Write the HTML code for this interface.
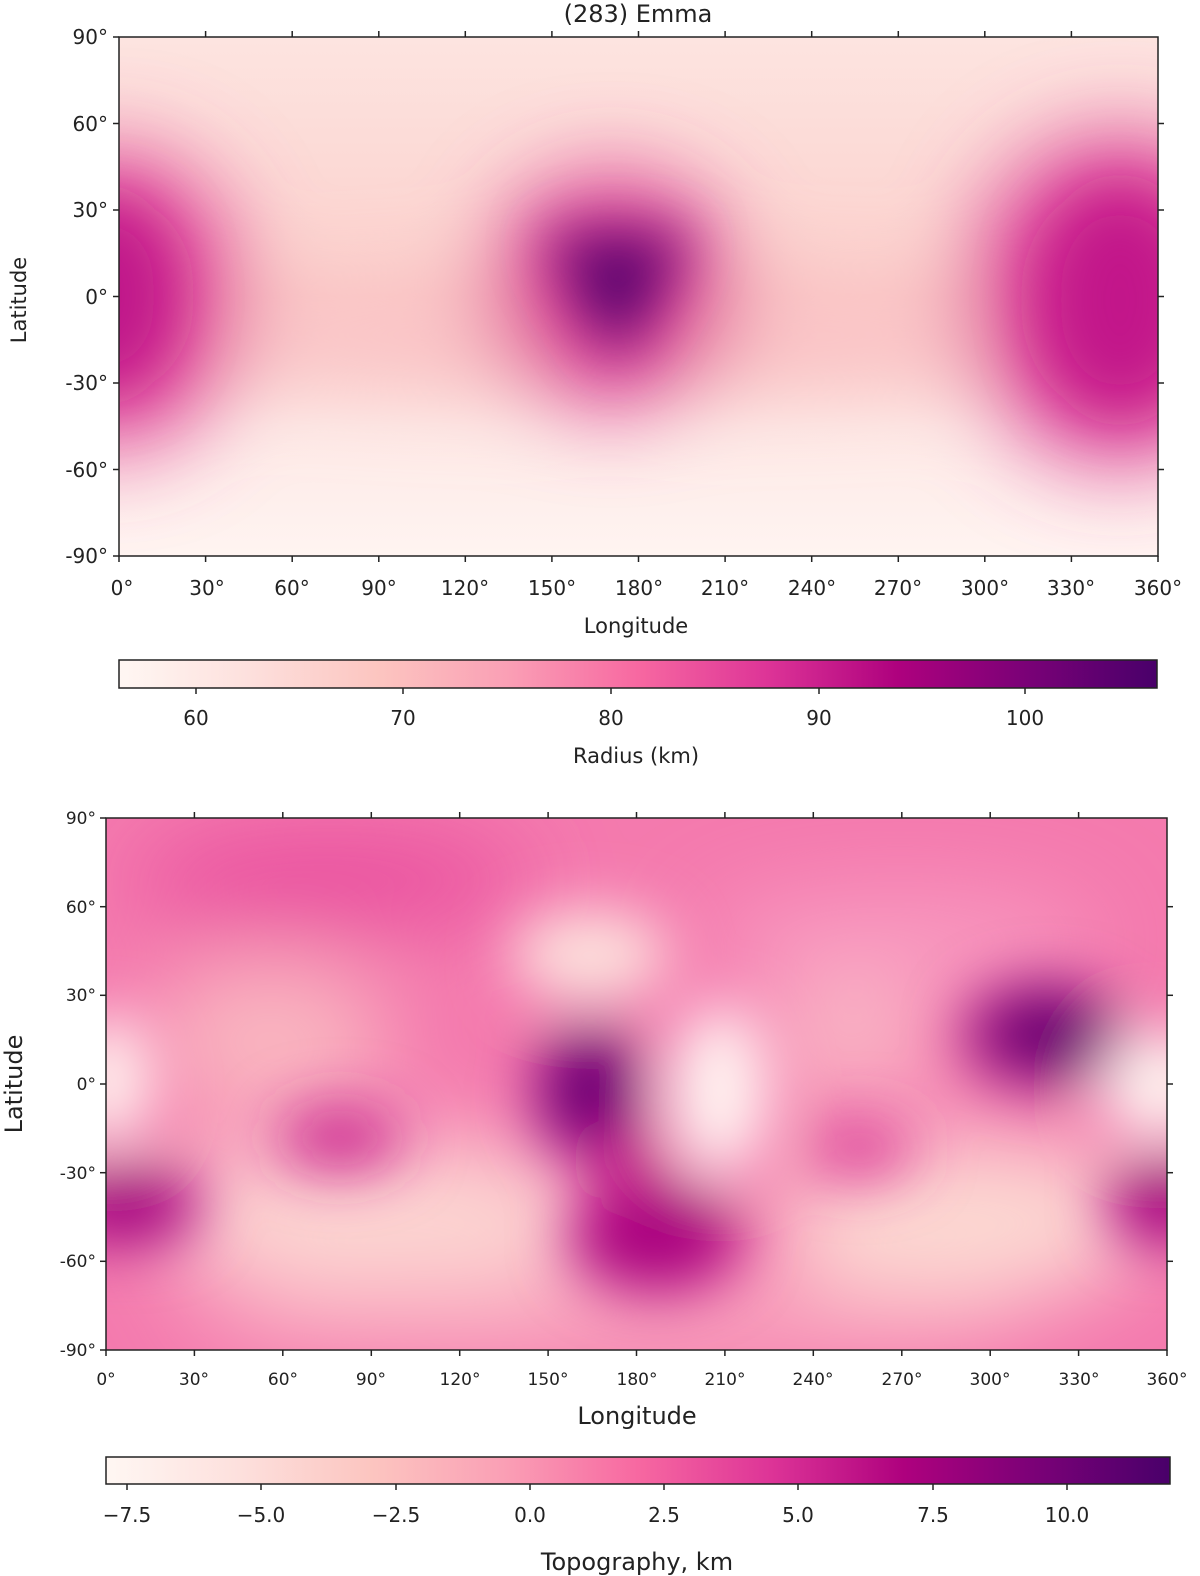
<!DOCTYPE html>
<html><head><meta charset="utf-8"><style>
html,body{margin:0;padding:0;background:#fff;overflow:hidden;}
svg{display:block;font-family:"DejaVu Sans","Liberation Sans",sans-serif;}
</style></head><body>
<svg width="1200" height="1576" viewBox="0 0 1200 1576" xmlns="http://www.w3.org/2000/svg">
<defs>
<filter id="b1" x="-50%" y="-50%" width="200%" height="200%"><feGaussianBlur stdDeviation="45"/></filter>
<filter id="b2" x="-50%" y="-50%" width="200%" height="200%"><feGaussianBlur stdDeviation="30"/></filter>
<clipPath id="c1"><rect x="119" y="37" width="1039" height="519"/></clipPath>
<clipPath id="c2"><rect x="106" y="818" width="1061" height="532"/></clipPath>
<linearGradient id="bg1" x1="0" y1="0" x2="0" y2="1">
<stop offset="0" stop-color="#fde4e0"/><stop offset="0.5" stop-color="#fbcfcb"/><stop offset="0.75" stop-color="#fde9e6"/><stop offset="1" stop-color="#fff4f1"/></linearGradient>
<linearGradient id="cm" x1="0" y1="0" x2="1" y2="0">
<stop offset="0" stop-color="#fff7f3"/><stop offset="0.125" stop-color="#fde0dd"/><stop offset="0.25" stop-color="#fcc5c0"/><stop offset="0.375" stop-color="#fa9fb5"/><stop offset="0.5" stop-color="#f768a1"/><stop offset="0.625" stop-color="#dd3497"/><stop offset="0.75" stop-color="#ae017e"/><stop offset="0.875" stop-color="#7a0177"/><stop offset="1" stop-color="#49006a"/></linearGradient>
</defs>
<text x="638" y="22" font-size="24" text-anchor="middle" fill="#222">(283) Emma</text>
<g clip-path="url(#c1)">
<rect x="119" y="37" width="1039" height="519" fill="url(#bg1)"/>
<g filter="url(#b1)">
<ellipse cx="640" cy="335" rx="520" ry="50" fill="#f9bfc2"/>
<ellipse cx="110" cy="300" rx="130" ry="150" fill="#e04a9a"/>
<ellipse cx="1120" cy="300" rx="150" ry="165" fill="#dc4298"/>
<ellipse cx="612" cy="290" rx="120" ry="115" fill="#dd3c95"/>
</g>
<g filter="url(#b2)">
<ellipse cx="105" cy="295" rx="70" ry="95" fill="#c0148a"/>
<ellipse cx="1120" cy="300" rx="80" ry="110" fill="#c2168a"/>
<path d="M545,235 L690,235 L620,360 Z" fill="#5e006f"/>
<ellipse cx="610" cy="295" rx="30" ry="30" fill="#49006a"/>
</g>
</g>
<rect x="119" y="37" width="1039" height="519" fill="none" stroke="#222" stroke-width="1.5"/>
<g stroke="#222" stroke-width="1.5">
<line x1="113" y1="37" x2="119" y2="37"/><line x1="113" y1="123.5" x2="119" y2="123.5"/><line x1="113" y1="210" x2="119" y2="210"/><line x1="113" y1="296.5" x2="119" y2="296.5"/><line x1="113" y1="383" x2="119" y2="383"/><line x1="113" y1="469.5" x2="119" y2="469.5"/><line x1="113" y1="556" x2="119" y2="556"/>
<line x1="1158" y1="123.5" x2="1164" y2="123.5"/><line x1="1158" y1="210" x2="1164" y2="210"/><line x1="1158" y1="296.5" x2="1164" y2="296.5"/><line x1="1158" y1="383" x2="1164" y2="383"/><line x1="1158" y1="469.5" x2="1164" y2="469.5"/>
</g>
<g font-size="20" fill="#222" text-anchor="end">
<text x="108" y="44">90°</text><text x="108" y="131">60°</text><text x="108" y="217">30°</text><text x="108" y="304">0°</text><text x="108" y="390">-30°</text><text x="108" y="477">-60°</text><text x="108" y="563">-90°</text>
</g>
<text transform="translate(26,300) rotate(-90)" font-size="21" text-anchor="middle" fill="#222">Latitude</text>
<g stroke="#222" stroke-width="1.5">
<line x1="119" y1="556" x2="119" y2="562"/><line x1="205.6" y1="556" x2="205.6" y2="562"/><line x1="292.2" y1="556" x2="292.2" y2="562"/><line x1="378.8" y1="556" x2="378.8" y2="562"/><line x1="465.3" y1="556" x2="465.3" y2="562"/><line x1="551.9" y1="556" x2="551.9" y2="562"/><line x1="638.5" y1="556" x2="638.5" y2="562"/><line x1="725.1" y1="556" x2="725.1" y2="562"/><line x1="811.7" y1="556" x2="811.7" y2="562"/><line x1="898.3" y1="556" x2="898.3" y2="562"/><line x1="984.8" y1="556" x2="984.8" y2="562"/><line x1="1071.4" y1="556" x2="1071.4" y2="562"/><line x1="1158" y1="556" x2="1158" y2="562"/>
<line x1="205.6" y1="31" x2="205.6" y2="37"/><line x1="292.2" y1="31" x2="292.2" y2="37"/><line x1="378.8" y1="31" x2="378.8" y2="37"/><line x1="465.3" y1="31" x2="465.3" y2="37"/><line x1="551.9" y1="31" x2="551.9" y2="37"/><line x1="638.5" y1="31" x2="638.5" y2="37"/><line x1="725.1" y1="31" x2="725.1" y2="37"/><line x1="811.7" y1="31" x2="811.7" y2="37"/><line x1="898.3" y1="31" x2="898.3" y2="37"/><line x1="984.8" y1="31" x2="984.8" y2="37"/><line x1="1071.4" y1="31" x2="1071.4" y2="37"/>
</g>
<g font-size="20" fill="#222" text-anchor="middle">
<text x="122" y="595">0°</text><text x="207" y="595">30°</text><text x="292" y="595">60°</text><text x="379" y="595">90°</text><text x="465" y="595">120°</text><text x="552" y="595">150°</text><text x="639" y="595">180°</text><text x="725" y="595">210°</text><text x="812" y="595">240°</text><text x="898" y="595">270°</text><text x="985" y="595">300°</text><text x="1071" y="595">330°</text><text x="1158" y="595">360°</text>
</g>
<text x="636" y="633" font-size="21" text-anchor="middle" fill="#222">Longitude</text>
<rect x="119" y="660" width="1038" height="28" fill="url(#cm)" stroke="#222" stroke-width="1.5"/>
<g stroke="#222" stroke-width="1.5"><line x1="196" y1="688" x2="196" y2="694"/><line x1="403" y1="688" x2="403" y2="694"/><line x1="611" y1="688" x2="611" y2="694"/><line x1="819" y1="688" x2="819" y2="694"/><line x1="1025" y1="688" x2="1025" y2="694"/></g>
<g font-size="20" fill="#222" text-anchor="middle"><text x="196" y="725">60</text><text x="403" y="725">70</text><text x="611" y="725">80</text><text x="819" y="725">90</text><text x="1025" y="725">100</text></g>
<text x="636" y="763" font-size="21" text-anchor="middle" fill="#222">Radius (km)</text>

<g clip-path="url(#c2)">
<rect x="106" y="818" width="1061" height="532" fill="#f47aae"/>
<g filter="url(#b1)">
<ellipse cx="330" cy="880" rx="200" ry="50" fill="#e9509f"/>
<ellipse cx="900" cy="940" rx="200" ry="50" fill="#f89ac0"/>
<ellipse cx="380" cy="1215" rx="230" ry="80" fill="#fcd6d2"/>
<ellipse cx="960" cy="1220" rx="190" ry="85" fill="#fcd8d2"/>
<ellipse cx="270" cy="1040" rx="120" ry="80" fill="#f9b6c0"/>
<ellipse cx="850" cy="1040" rx="90" ry="60" fill="#f9b6c4"/>
<ellipse cx="600" cy="1320" rx="420" ry="40" fill="#f9a8bf"/>
</g>
<g filter="url(#b2)">
<ellipse cx="590" cy="955" rx="80" ry="45" fill="#fde4de"/>
<ellipse cx="720" cy="1090" rx="50" ry="85" fill="#fff4f1"/>
<ellipse cx="108" cy="1080" rx="45" ry="65" fill="#fff2ee"/>
<ellipse cx="1160" cy="1085" rx="60" ry="55" fill="#fff4f0"/>
<ellipse cx="590" cy="1090" rx="55" ry="70" fill="#8c0280"/>
<ellipse cx="592" cy="1092" rx="30" ry="35" fill="#49006a"/>
<ellipse cx="1045" cy="1035" rx="80" ry="50" fill="#8a027c"/>
<ellipse cx="1048" cy="1035" rx="40" ry="28" fill="#4d006b"/>
<ellipse cx="125" cy="1205" rx="75" ry="40" fill="#a2037f"/>
<ellipse cx="1165" cy="1200" rx="55" ry="45" fill="#a2037f"/>
<ellipse cx="655" cy="1235" rx="85" ry="55" fill="#a9047f"/>
<ellipse cx="340" cy="1138" rx="65" ry="32" fill="#cc2590"/>
<ellipse cx="860" cy="1148" rx="55" ry="28" fill="#dc3a98"/>
<ellipse cx="630" cy="1160" rx="30" ry="40" fill="#c51c8b"/>
</g>
</g>
<rect x="106" y="818" width="1061" height="532" fill="none" stroke="#222" stroke-width="1.5"/>
<g stroke="#222" stroke-width="1.5">
<line x1="100" y1="818" x2="106" y2="818"/><line x1="100" y1="906.7" x2="106" y2="906.7"/><line x1="100" y1="995.3" x2="106" y2="995.3"/><line x1="100" y1="1084" x2="106" y2="1084"/><line x1="100" y1="1172.7" x2="106" y2="1172.7"/><line x1="100" y1="1261.3" x2="106" y2="1261.3"/><line x1="100" y1="1350" x2="106" y2="1350"/>
<line x1="1167" y1="906.7" x2="1173" y2="906.7"/><line x1="1167" y1="995.3" x2="1173" y2="995.3"/><line x1="1167" y1="1084" x2="1173" y2="1084"/><line x1="1167" y1="1172.7" x2="1173" y2="1172.7"/><line x1="1167" y1="1261.3" x2="1173" y2="1261.3"/>
</g>
<g font-size="17" fill="#222" text-anchor="end">
<text x="96" y="824">90°</text><text x="96" y="913">60°</text><text x="96" y="1001">30°</text><text x="96" y="1090">0°</text><text x="96" y="1179">-30°</text><text x="96" y="1267">-60°</text><text x="96" y="1356">-90°</text>
</g>
<text transform="translate(22,1084) rotate(-90)" font-size="24" text-anchor="middle" fill="#222">Latitude</text>
<g stroke="#222" stroke-width="1.5">
<line x1="106" y1="1350" x2="106" y2="1356"/><line x1="194.4" y1="1350" x2="194.4" y2="1356"/><line x1="282.8" y1="1350" x2="282.8" y2="1356"/><line x1="371.3" y1="1350" x2="371.3" y2="1356"/><line x1="459.7" y1="1350" x2="459.7" y2="1356"/><line x1="548.1" y1="1350" x2="548.1" y2="1356"/><line x1="636.5" y1="1350" x2="636.5" y2="1356"/><line x1="724.9" y1="1350" x2="724.9" y2="1356"/><line x1="813.3" y1="1350" x2="813.3" y2="1356"/><line x1="901.8" y1="1350" x2="901.8" y2="1356"/><line x1="990.2" y1="1350" x2="990.2" y2="1356"/><line x1="1078.6" y1="1350" x2="1078.6" y2="1356"/><line x1="1167" y1="1350" x2="1167" y2="1356"/>
<line x1="194.4" y1="812" x2="194.4" y2="818"/><line x1="282.8" y1="812" x2="282.8" y2="818"/><line x1="371.3" y1="812" x2="371.3" y2="818"/><line x1="459.7" y1="812" x2="459.7" y2="818"/><line x1="548.1" y1="812" x2="548.1" y2="818"/><line x1="636.5" y1="812" x2="636.5" y2="818"/><line x1="724.9" y1="812" x2="724.9" y2="818"/><line x1="813.3" y1="812" x2="813.3" y2="818"/><line x1="901.8" y1="812" x2="901.8" y2="818"/><line x1="990.2" y1="812" x2="990.2" y2="818"/><line x1="1078.6" y1="812" x2="1078.6" y2="818"/>
</g>
<g font-size="17" fill="#222" text-anchor="middle">
<text x="106" y="1385">0°</text><text x="194" y="1385">30°</text><text x="283" y="1385">60°</text><text x="371" y="1385">90°</text><text x="460" y="1385">120°</text><text x="548" y="1385">150°</text><text x="637" y="1385">180°</text><text x="725" y="1385">210°</text><text x="813" y="1385">240°</text><text x="902" y="1385">270°</text><text x="990" y="1385">300°</text><text x="1079" y="1385">330°</text><text x="1167" y="1385">360°</text>
</g>
<text x="637" y="1424" font-size="24" text-anchor="middle" fill="#222">Longitude</text>
<rect x="106" y="1457" width="1064" height="27" fill="url(#cm)" stroke="#222" stroke-width="1.5"/>
<g stroke="#222" stroke-width="1.5"><line x1="127" y1="1484" x2="127" y2="1490"/><line x1="261" y1="1484" x2="261" y2="1490"/><line x1="396" y1="1484" x2="396" y2="1490"/><line x1="530" y1="1484" x2="530" y2="1490"/><line x1="664" y1="1484" x2="664" y2="1490"/><line x1="798" y1="1484" x2="798" y2="1490"/><line x1="933" y1="1484" x2="933" y2="1490"/><line x1="1067" y1="1484" x2="1067" y2="1490"/></g>
<g font-size="20" fill="#222" text-anchor="middle"><text x="127" y="1522">−7.5</text><text x="261" y="1522">−5.0</text><text x="396" y="1522">−2.5</text><text x="530" y="1522">0.0</text><text x="664" y="1522">2.5</text><text x="798" y="1522">5.0</text><text x="933" y="1522">7.5</text><text x="1067" y="1522">10.0</text></g>
<text x="637" y="1570" font-size="24" text-anchor="middle" fill="#222">Topography, km</text>
</svg>
</body></html>
